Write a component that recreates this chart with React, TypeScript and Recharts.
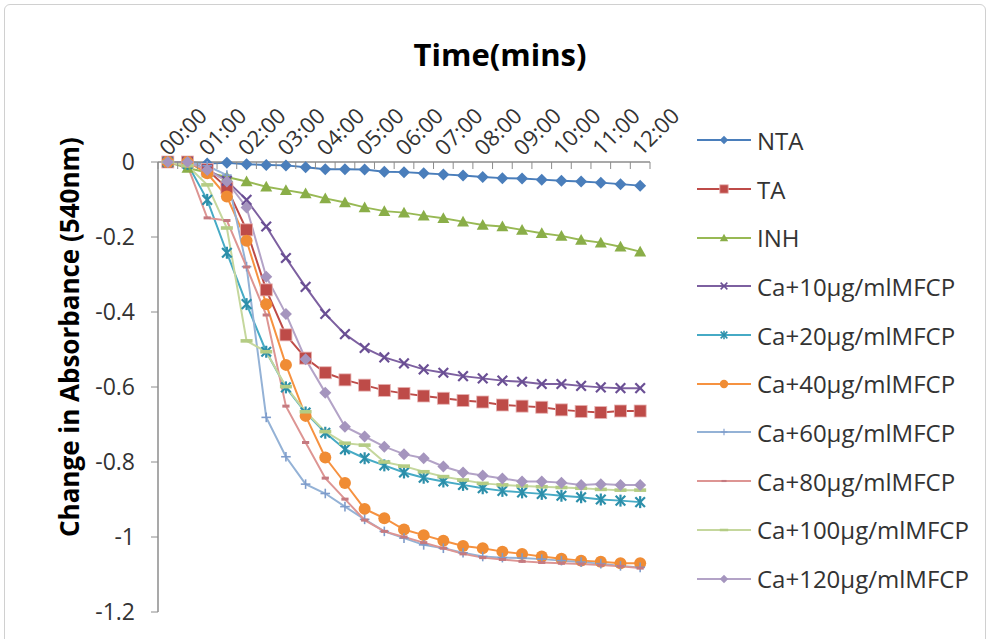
import React from "react";
import { LineChart, Line, XAxis, YAxis } from "recharts";

// sampling every 30 s, labels shown on the full minutes
const times = [
  "00:00", "00:30", "01:00", "01:30", "02:00", "02:30", "03:00", "03:30", "04:00",
  "04:30", "05:00", "05:30", "06:00", "06:30", "07:00", "07:30", "08:00", "08:30",
  "09:00", "09:30", "10:00", "10:30", "11:00", "11:30", "12:00",
];

const nta = [0, 0, -0.004, -0.002, -0.006, -0.008, -0.009, -0.014, -0.019, -0.019, -0.02, -0.026, -0.027, -0.03, -0.033, -0.036, -0.04, -0.043, -0.044, -0.047, -0.05, -0.052, -0.055, -0.059, -0.063];
const ta = [0, 0, -0.02, -0.069, -0.181, -0.341, -0.461, -0.523, -0.562, -0.581, -0.595, -0.609, -0.617, -0.624, -0.63, -0.636, -0.64, -0.648, -0.651, -0.654, -0.661, -0.665, -0.668, -0.664, -0.664];
const inh = [0, -0.016, -0.028, -0.04, -0.052, -0.066, -0.075, -0.084, -0.097, -0.108, -0.121, -0.131, -0.135, -0.143, -0.15, -0.159, -0.168, -0.172, -0.181, -0.19, -0.197, -0.208, -0.215, -0.226, -0.239];
const ca10 = [0, 0, -0.02, -0.05, -0.101, -0.172, -0.256, -0.333, -0.405, -0.459, -0.496, -0.521, -0.537, -0.553, -0.562, -0.571, -0.577, -0.583, -0.586, -0.592, -0.592, -0.597, -0.601, -0.603, -0.603];
const ca20 = [0, -0.005, -0.101, -0.242, -0.379, -0.506, -0.601, -0.668, -0.722, -0.766, -0.79, -0.809, -0.828, -0.842, -0.852, -0.861, -0.87, -0.877, -0.881, -0.885, -0.89, -0.894, -0.9, -0.903, -0.907];
const ca40 = [0, 0, -0.03, -0.092, -0.21, -0.379, -0.541, -0.677, -0.788, -0.856, -0.925, -0.95, -0.98, -0.995, -1.01, -1.024, -1.03, -1.039, -1.045, -1.052, -1.058, -1.063, -1.066, -1.07, -1.07];
const ca60 = [0, 0, -0.01, -0.035, -0.279, -0.681, -0.786, -0.859, -0.884, -0.919, -0.953, -0.985, -1.003, -1.021, -1.03, -1.042, -1.052, -1.055, -1.056, -1.059, -1.063, -1.067, -1.071, -1.077, -1.081];
const ca80 = [0, -0.01, -0.149, -0.156, -0.28, -0.408, -0.651, -0.748, -0.843, -0.899, -0.955, -0.985, -1.0, -1.015, -1.03, -1.045, -1.055, -1.06, -1.065, -1.068, -1.07, -1.072, -1.075, -1.078, -1.083];
const ca100 = [0, -0.01, -0.061, -0.176, -0.477, -0.506, -0.599, -0.666, -0.719, -0.75, -0.755, -0.8, -0.811, -0.826, -0.839, -0.848, -0.857, -0.861, -0.864, -0.866, -0.868, -0.87, -0.873, -0.875, -0.875];
const ca120 = [0, 0, -0.021, -0.052, -0.121, -0.306, -0.405, -0.526, -0.615, -0.706, -0.732, -0.759, -0.779, -0.79, -0.812, -0.828, -0.836, -0.844, -0.852, -0.852, -0.855, -0.861, -0.859, -0.861, -0.861];

const yTicks = [0, -0.2, -0.4, -0.6, -0.8, -1, -1.2];

type Shape = "diamond" | "square" | "triangle" | "x" | "star" | "circle" | "plus" | "dashS" | "dashL";

const series: { key: string; name: string; values: number[]; color: string; mark: string; shape: Shape }[] = [
  { key: "nta", name: "NTA", values: nta, color: "#4A7EBB", mark: "#4A7EBB", shape: "diamond" },
  { key: "ta", name: "TA", values: ta, color: "#BE4B48", mark: "#BE4B48", shape: "square" },
  { key: "inh", name: "INH", values: inh, color: "#98B954", mark: "#8AAE48", shape: "triangle" },
  { key: "ca10", name: "Ca+10µg/mlMFCP", values: ca10, color: "#7D60A0", mark: "#6A4F94", shape: "x" },
  { key: "ca20", name: "Ca+20µg/mlMFCP", values: ca20, color: "#46AAC5", mark: "#2C8FAA", shape: "star" },
  { key: "ca40", name: "Ca+40µg/mlMFCP", values: ca40, color: "#F69240", mark: "#F08C34", shape: "circle" },
  { key: "ca60", name: "Ca+60µg/mlMFCP", values: ca60, color: "#94B2D6", mark: "#7E9CCB", shape: "plus" },
  { key: "ca80", name: "Ca+80µg/mlMFCP", values: ca80, color: "#DD9593", mark: "#C57A80", shape: "dashS" },
  { key: "ca100", name: "Ca+100µg/mlMFCP", values: ca100, color: "#C5D79D", mark: "#B4CC84", shape: "dashL" },
  { key: "ca120", name: "Ca+120µg/mlMFCP", values: ca120, color: "#B3A3C7", mark: "#A595BE", shape: "diamond" },
];

const data = times.map((t, i) => {
  const row: Record<string, number | string> = { idx: i, time: t };
  series.forEach((s) => (row[s.key] = s.values[i]));
  return row;
});

// tick marks sit between categories, labels on every other category
const xTicks: number[] = [];
for (let i = 0; i <= times.length; i++) {
  xTicks.push(i - 0.5);
  if (i < times.length && i % 2 === 0) xTicks.push(i);
}

const FONT = "'Open Sans', 'Noto Sans', sans-serif";
const AXIS = "#8C8C8C";

function Marker({ shape, cx, cy, color, s = 1 }: { shape: Shape; cx: number; cy: number; color: string; s?: number }) {
  const r = 6 * s;
  switch (shape) {
    case "diamond":
      return <polygon points={`${cx},${cy - r} ${cx + r},${cy} ${cx},${cy + r} ${cx - r},${cy}`} fill={color} />;
    case "square":
      return <rect x={cx - r} y={cy - r} width={2 * r} height={2 * r} fill={color} stroke="#E7B4B3" strokeWidth={0.8} />;
    case "triangle":
      return <polygon points={`${cx},${cy - r} ${cx + r},${cy + r * 0.8} ${cx - r},${cy + r * 0.8}`} fill={color} />;
    case "x":
      return (
        <g stroke={color} strokeWidth={2.2 * s}>
          <line x1={cx - r * 0.8} y1={cy - r * 0.8} x2={cx + r * 0.8} y2={cy + r * 0.8} />
          <line x1={cx - r * 0.8} y1={cy + r * 0.8} x2={cx + r * 0.8} y2={cy - r * 0.8} />
        </g>
      );
    case "star":
      return (
        <g stroke={color} strokeWidth={2.2 * s}>
          <line x1={cx - r * 0.8} y1={cy - r * 0.8} x2={cx + r * 0.8} y2={cy + r * 0.8} />
          <line x1={cx - r * 0.8} y1={cy + r * 0.8} x2={cx + r * 0.8} y2={cy - r * 0.8} />
          <line x1={cx} y1={cy - r} x2={cx} y2={cy + r} />
        </g>
      );
    case "circle":
      return <circle cx={cx} cy={cy} r={r} fill={color} />;
    case "plus":
      return (
        <g stroke={color} strokeWidth={1.6 * s}>
          <line x1={cx - r * 0.8} y1={cy} x2={cx + r * 0.8} y2={cy} />
          <line x1={cx} y1={cy - r * 0.8} x2={cx} y2={cy + r * 0.8} />
        </g>
      );
    case "dashS":
      return <rect x={cx - r * 0.6} y={cy - 1.5 * s} width={r * 1.2} height={3 * s} fill={color} />;
    case "dashL":
      return <rect x={cx - r} y={cy - 1.8 * s} width={2 * r} height={3.6 * s} fill={color} />;
  }
  return null;
}

const XTick = (props: any) => {
  const { x, y, payload } = props;
  const v = payload.value as number;
  if (!Number.isInteger(v)) {
    return <line x1={x} y1={y} x2={x} y2={y + 7} stroke={AXIS} strokeWidth={1} />;
  }
  const tx = x + 1;
  const ty = y - 5;
  return (
    <text x={tx} y={ty} transform={`rotate(-45 ${tx} ${ty})`} textAnchor="start" fontSize={22} fontFamily={FONT} fill="#333">
      {times[v]}
    </text>
  );
};

function LegendBox() {
  return (
    <div style={{ position: "absolute", left: 696, top: 116 }}>
      {series.map((s) => (
        <div key={s.key} style={{ display: "flex", alignItems: "center", height: 48.7 }}>
          <svg width={58} height={20} style={{ display: "block" }}>
            <line x1={1} y1={10} x2={55} y2={10} stroke={s.color} strokeWidth={2} />
            <Marker shape={s.shape} cx={28} cy={10} color={s.mark} s={0.7} />
          </svg>
          <span style={{ fontFamily: FONT, fontSize: 24, color: "#333", marginLeft: 3, whiteSpace: "nowrap" }}>{s.name}</span>
        </div>
      ))}
    </div>
  );
}

export default function App() {
  return (
    <div style={{ position: "absolute", left: 0, top: 0, width: 990, height: 639, background: "#fff", overflow: "hidden" }}>
      <div style={{ position: "absolute", left: 4, top: 4, width: 980, height: 640, border: "1px solid #D0D0D0", borderRadius: 6 }} />
      <LineChart width={990} height={639} data={data} margin={{ top: 0, right: 340, bottom: 27, left: 0 }}>
        <XAxis
          dataKey="idx"
          type="number"
          orientation="top"
          domain={[-0.5, 24.5]}
          ticks={xTicks}
          interval={0}
          height={162}
          tickSize={0}
          tickMargin={0}
          tickLine={false}
          axisLine={{ stroke: AXIS, strokeWidth: 1.5 }}
          tick={<XTick />}
        />
        <YAxis
          type="number"
          domain={[-1.2, 0]}
          ticks={yTicks}
          width={158}
          tickSize={7}
          tickMargin={16}
          axisLine={{ stroke: AXIS, strokeWidth: 1.5 }}
          tickLine={{ stroke: AXIS }}
          tick={{ fontSize: 23, fontFamily: FONT, fill: "#333" }}
        />
        {series.map((s) => (
          <Line
            key={s.key}
            dataKey={s.key}
            name={s.name}
            type="linear"
            stroke={s.color}
            strokeWidth={2}
            isAnimationActive={false}
            dot={(p: any) => (
              <g key={`${s.key}-${p.index}`}>
                <Marker shape={s.shape} cx={p.cx} cy={p.cy} color={s.mark} />
              </g>
            )}
            activeDot={false}
          />
        ))}
      </LineChart>
      <svg width={990} height={639} style={{ position: "absolute", left: 0, top: 0, pointerEvents: "none" }}>
        <text x={500} y={66} textAnchor="middle" fontFamily={FONT} fontWeight={700} fontSize={31} fill="#000">
          Time(mins)
        </text>
        <text x={79} y={537} transform="rotate(-90 79 537)" fontFamily={FONT} fontWeight={700} fontSize={26} fill="#000">
          Change in Absorbance (540nm)
        </text>
      </svg>
      <LegendBox />
    </div>
  );
}
